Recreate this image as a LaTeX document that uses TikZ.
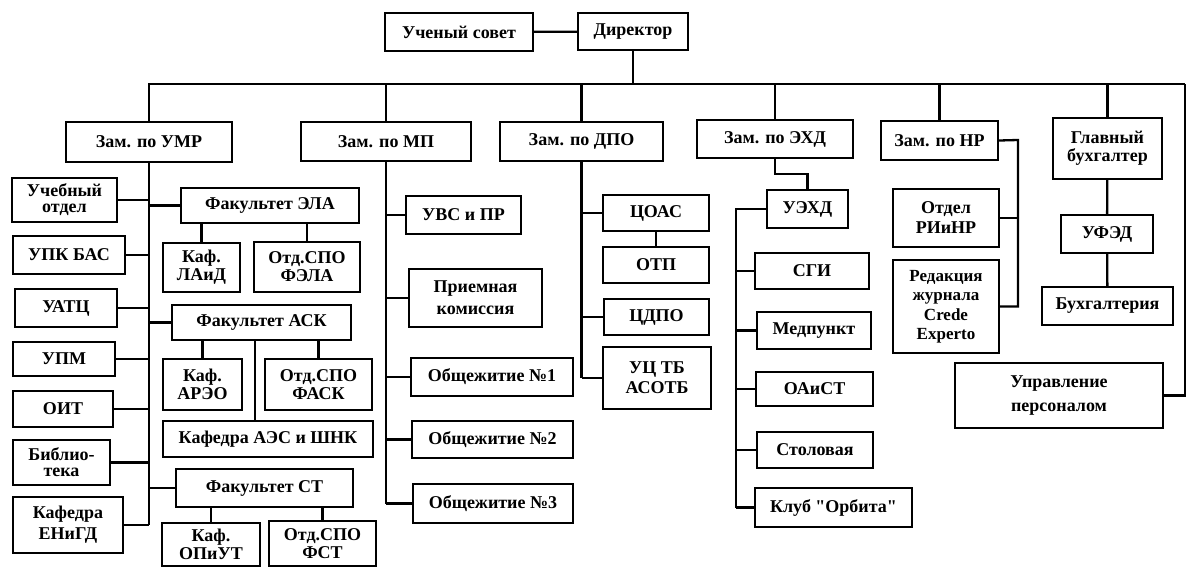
\documentclass[tikz,border=0pt]{standalone}
\usepackage{fontspec}
\setmainfont{Liberation Serif}[Ligatures=TeXOff]
\tikzset{
  box/.style={draw, line width=2.3pt, align=center, inner sep=1pt,
    font=\fontsize{18}{18}\selectfont\bfseries},
  link/.style={line width=2.3pt}
}
\begin{document}
\begin{tikzpicture}[x=1pt, y=-1pt]
\useasboundingbox (0,0) rectangle (1189,568);
% top
\node[box, minimum width=148pt, minimum height=38pt] (usov) at (459,32) {Ученый совет};
\node[box, minimum width=110pt, minimum height=37pt] (dir) at (633,31.5) {Директор};
\coordinate (busL) at (148,84);
\coordinate (busR) at (1185,84);

% deputies
\node[box, minimum width=166pt, minimum height=40pt] (zumr) at (149,142) {Зам. по УМР};
\node[box, minimum width=170pt, minimum height=39pt] (zmp) at (386,141.5) {Зам. по МП};
\node[box, minimum width=163pt, minimum height=39pt] (zdpo) at (581.5,141.5) {Зам. по ДПО};
\node[box, minimum width=156pt, minimum height=38pt] (zehd) at (775,139) {Зам. по ЭХД};
\node[box, minimum width=117pt, minimum height=39pt] (znr) at (939.5,140.5) {Зам. по НР};
\node[box, minimum width=109pt, minimum height=61pt] (gbuh) at (1107.5,148.5) {Главный\\бухгалтер};

% UMR, left
\node[box, minimum width=105pt, minimum height=44pt, font=\fontsize{18}{16}\selectfont\bfseries] (uo) at (64.5,200) {Учебный\\отдел};
\node[box, minimum width=112pt, minimum height=38pt] (upk) at (69,255) {УПК БАС};
\node[box, minimum width=102pt, minimum height=38pt] (uatc) at (66,308) {УАТЦ};
\node[box, minimum width=102pt, minimum height=34pt] (upm) at (64,359) {УПМ};
\node[box, minimum width=100pt, minimum height=36pt] (oit) at (63,409) {ОИТ};
\node[box, minimum width=97pt, minimum height=45pt, font=\fontsize{18}{16}\selectfont\bfseries] (bib) at (61.5,462.5) {Библио-\\тека};
\node[box, minimum width=110pt, minimum height=56pt, font=\fontsize{18}{21}\selectfont\bfseries] (kengd) at (68,525) {Кафедра\\ЕНиГД};

% UMR, faculties
\node[box, minimum width=178pt, minimum height=35pt] (fela) at (270,205.5) {Факультет ЭЛА};
\node[box, minimum width=77pt, minimum height=49pt] (klaid) at (201.5,267.5) {Каф.\\ЛАиД};
\node[box, minimum width=106pt, minimum height=50pt] (sfela) at (307,267) {Отд.СПО\\ФЭЛА};
\node[box, minimum width=179pt, minimum height=35pt] (fask) at (261.5,322.5) {Факультет АСК};
\node[box, minimum width=79pt, minimum height=51pt] (karew) at (202.5,384.5) {Каф.\\АРЭО};
\node[box, minimum width=107pt, minimum height=51pt] (sfask) at (318.5,384.5) {Отд.СПО\\ФАСК};
\node[box, minimum width=210pt, minimum height=36pt] (kaes) at (268,439) {Кафедра АЭС и ШНК};
\node[box, minimum width=177pt, minimum height=38pt] (fst) at (264.5,488) {Факультет СТ};
\node[box, minimum width=98pt, minimum height=43pt] (kopiut) at (211,544.5) {Каф.\\ОПиУТ};
\node[box, minimum width=107pt, minimum height=45pt] (sfst) at (322.5,543.5) {Отд.СПО\\ФСТ};

% MP
\node[box, minimum width=115pt, minimum height=38pt] (uvs) at (463.5,215) {УВС и ПР};
\node[box, minimum width=133pt, minimum height=58pt, font=\fontsize{18}{22}\selectfont\bfseries] (prk) at (475.5,298) {Приемная\\комиссия};
\node[box, minimum width=162pt, minimum height=38pt] (ob1) at (492,377) {Общежитие №1};
\node[box, minimum width=161pt, minimum height=37pt] (ob2) at (492.5,439.5) {Общежитие №2};
\node[box, minimum width=160pt, minimum height=39pt] (ob3) at (493,503.5) {Общежитие №3};

% DPO
\node[box, minimum width=106pt, minimum height=36pt] (coas) at (656,213) {ЦОАС};
\node[box, minimum width=106pt, minimum height=36pt] (otp) at (656,265) {ОТП};
\node[box, minimum width=105pt, minimum height=36pt] (cdpo) at (656.5,317) {ЦДПО};
\node[box, minimum width=108pt, minimum height=62pt, font=\fontsize{18}{20}\selectfont\bfseries] (uctb) at (657,378) {УЦ ТБ\\АСОТБ};

% EHD
\node[box, minimum width=81pt, minimum height=38pt] (uehd) at (807.5,209) {УЭХД};
\node[box, minimum width=114pt, minimum height=36pt] (sgi) at (812,271) {СГИ};
\node[box, minimum width=114pt, minimum height=37pt] (med) at (814,330.5) {Медпункт};
\node[box, minimum width=117pt, minimum height=34pt] (oaist) at (814.5,389) {ОАиСТ};
\node[box, minimum width=116pt, minimum height=36pt] (stol) at (815,450) {Столовая};
\node[box, minimum width=157pt, minimum height=39pt] (klub) at (833.5,507.5) {Клуб "Орбита"};
\coordinate (ehd) at (736,209);

% NR
\node[box, minimum width=106pt, minimum height=58pt, font=\fontsize{18}{20}\selectfont\bfseries] (otdr) at (946,218) {Отдел\\РИиНР};
\node[box, minimum width=106pt, minimum height=93pt, font=\fontsize{17}{19.5}\selectfont\bfseries] (red) at (946,306.5) {Редакция\\журнала\\Crede\\Experto};
\coordinate (nr) at (1018,140);

% accounting
\node[box, minimum width=92pt, minimum height=38pt] (ufed) at (1107,234) {УФЭД};
\node[box, minimum width=131pt, minimum height=38pt] (buh) at (1107.5,306) {Бухгалтерия};
\node[box, minimum width=208pt, minimum height=65pt, font=\fontsize{18}{24}\selectfont\bfseries] (up) at (1059,395.5) {Управление\\персоналом};

\begin{scope}[link]
\draw (usov) -- (dir);
\draw (dir.south) -- (dir.south |- busL);
\draw (busL) -- (busR);
\foreach \z in {zumr,zmp,zdpo,zehd,znr,gbuh}
  \draw (\z.north) -- (\z.north |- busL);
\draw (up.east) -- (up.east -| busR) -- (busR);

\draw (zumr.south) -- (zumr.south |- kengd.east);
\foreach \b in {uo,upk,uatc,upm,oit,bib,kengd}
  \draw (\b.east) -- (\b.east -| zumr.south);
\foreach \f in {fela,fask,fst}
  \draw (\f.west) -- (\f.west -| zumr.south);
\draw (klaid.north) -- (klaid.north |- fela.south);
\draw (sfela.north) -- (sfela.north |- fela.south);
\draw (karew.north) -- (karew.north |- fask.south);
\draw (sfask.north) -- (sfask.north |- fask.south);
\draw ([xshift=-13pt]kaes.north) -- ([xshift=-13pt]kaes.north |- fask.south);
\draw (kopiut.north) -- (kopiut.north |- fst.south);
\draw (sfst.north) -- (sfst.north |- fst.south);

\draw (zmp.south) -- (zmp.south |- ob3.west);
\foreach \b in {uvs,prk,ob1,ob2,ob3}
  \draw (\b.west) -- (\b.west -| zmp.south);

\draw (zdpo.south) -- (zdpo.south |- uctb.west);
\foreach \b in {coas,cdpo,uctb}
  \draw (\b.west) -- (\b.west -| zdpo.south);
\draw (coas) -- (otp);

\draw (zehd.south) -- ++(0,15) -| (uehd.north);
\draw (uehd.west) -- (ehd) -- (ehd |- klub.west);
\foreach \b in {sgi,med,oaist,stol,klub}
  \draw (\b.west) -- (\b.west -| ehd);

\draw (znr.east) -- (nr) -- (nr |- red.east) -- (red.east);
\draw (otdr.east) -- (otdr.east -| nr);

\draw (gbuh) -- (ufed);
\draw (ufed) -- (buh);
\end{scope}
\end{tikzpicture}
\end{document}
